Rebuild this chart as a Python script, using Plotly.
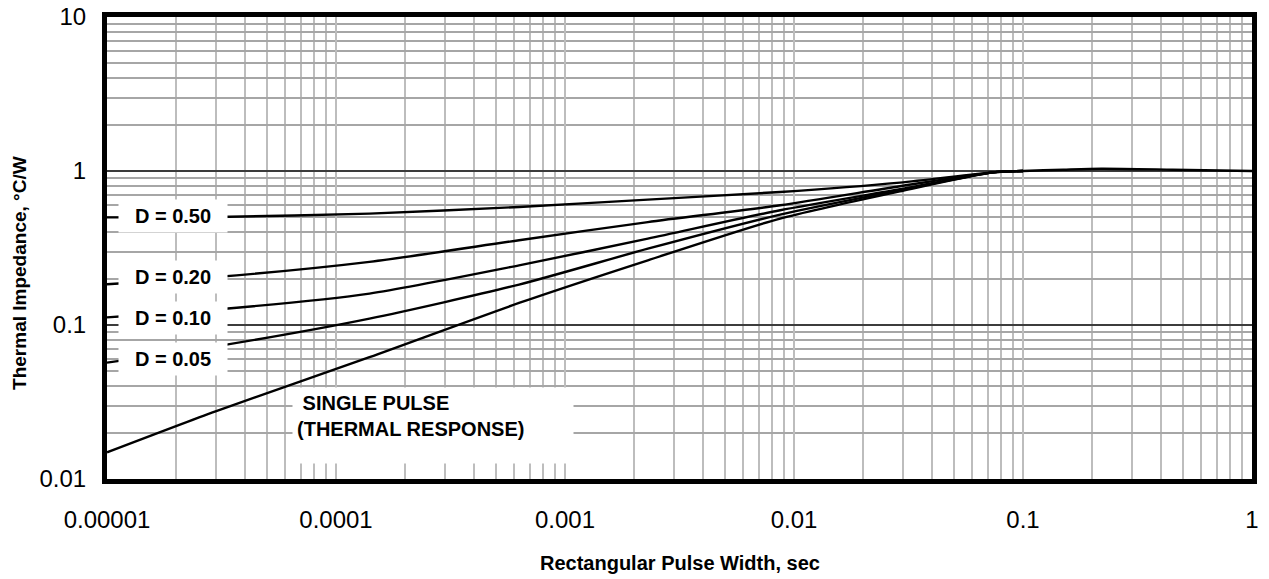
import plotly.graph_objects as go

# ---- data ----
pulse_width = [1e-5, 3e-5, 1.4e-4, 6.3e-4, 2.3e-3, 8.7e-3, 0.029, 0.074, 0.1]
z_d050 = [0.50, 0.503, 0.529, 0.584, 0.652, 0.731, 0.841, 0.98, 1.0]
z_d020 = [0.184, 0.205, 0.257, 0.355, 0.466, 0.599, 0.796, 0.98, 1.0]
z_d010 = [0.112, 0.126, 0.160, 0.244, 0.364, 0.556, 0.761, 0.98, 1.0]
z_d005 = [0.057, 0.0727, 0.110, 0.183, 0.313, 0.521, 0.749, 0.98, 1.0]

single_x = [1e-5, 3e-5, 1.4e-4, 6.3e-4, 2.3e-3, 8.7e-3, 0.029, 0.074, 0.1, 0.15, 0.22, 0.45, 1.0]
single_z = [0.0149, 0.0276, 0.0618, 0.139, 0.263, 0.491, 0.738, 0.98, 1.0, 1.02, 1.035, 1.02, 1.0]

x_tickvals = [1e-5, 1e-4, 1e-3, 1e-2, 1e-1, 1]
x_ticktext = ["0.00001", "0.0001", "0.001", "0.01", "0.1", "1"]
y_tickvals = [0.01, 0.1, 1, 10]
y_ticktext = ["0.01", "0.1", "1", "10"]

duty_labels = ["D = 0.50", "D = 0.20", "D = 0.10", "D = 0.05"]
duty_series = [z_d050, z_d020, z_d010, z_d005]
# label centre heights (log10 of impedance)
duty_label_logy = [-0.294, -0.690, -0.956, -1.223]

x_title = "Rectangular Pulse Width, sec"
y_title = "Thermal Impedance, °C/W"

FONT = "Arial, 'Liberation Sans', sans-serif"

def minor_vals(lo_exp, hi_exp):
    out = []
    for e in range(lo_exp, hi_exp):
        for m in range(2, 10):
            out.append(m * 10 ** e)
    return out

fig = go.Figure()
for ys in duty_series:
    fig.add_trace(go.Scatter(x=pulse_width, y=ys, mode="lines",
                             line=dict(color="black", width=2.4, shape="spline", smoothing=0.7),
                             showlegend=False, hoverinfo="skip"))
fig.add_trace(go.Scatter(x=single_x, y=single_z, mode="lines",
                         line=dict(color="black", width=2.4, shape="spline", smoothing=0.7),
                         showlegend=False, hoverinfo="skip"))

annotations = []
for txt, ly in zip(duty_labels, duty_label_logy):
    annotations.append(dict(x=-4.712, y=ly, xref="x", yref="y", text="<b>" + txt + "</b>",
                            showarrow=False, bgcolor="white", width=108, height=32,
                            borderpad=0, font=dict(family=FONT, size=20, color="black")))
annotations.append(dict(x=-3.576, y=-1.655, xref="x", yref="y",
                        text="<b>&nbsp;SINGLE PULSE<br>(THERMAL RESPONSE)</b>",
                        showarrow=False, bgcolor="white", width=272, height=67,
                        align="left", valign="top", borderpad=4,
                        font=dict(family=FONT, size=20, color="black")))
# axis titles
annotations.append(dict(x=0.5004, y=-0.182, xref="paper", yref="paper",
                        text="<b>" + x_title + "</b>", showarrow=False,
                        xanchor="center", yanchor="middle",
                        font=dict(family=FONT, size=20, color="black")))
annotations.append(dict(x=-0.076, y=0.446, xref="paper", yref="paper",
                        text="<b>" + y_title + "</b>", showarrow=False, textangle=-90,
                        xanchor="center", yanchor="middle",
                        font=dict(family=FONT, size=19, color="black")))

fig.update_layout(
    width=1269, height=579,
    margin=dict(l=107, r=17, t=17, b=100),
    paper_bgcolor="white", plot_bgcolor="white",
    font=dict(family=FONT, color="black"),
    annotations=annotations,
    xaxis=dict(
        type="log", range=[-5, 0], automargin=False,
        tickmode="array", tickvals=x_tickvals, ticktext=x_ticktext,
        tickfont=dict(size=24, family=FONT, color="black"),
        ticks="outside", ticklen=15, tickcolor="rgba(0,0,0,0)",
        ticklabeloverflow="allow",
        showgrid=True, gridcolor="#bdbdbd", gridwidth=1.5,
        minor=dict(tickmode="array", tickvals=minor_vals(-5, 0), showgrid=True,
                   gridcolor="#bdbdbd", gridwidth=1.5, ticks=""),
        showline=True, linecolor="black", linewidth=5, mirror=True,
        zeroline=False,
    ),
    yaxis=dict(
        type="log", range=[-2, 1], automargin=False,
        tickmode="array", tickvals=y_tickvals, ticktext=y_ticktext,
        tickfont=dict(size=24, family=FONT, color="black"),
        ticks="outside", ticklen=11, tickcolor="rgba(0,0,0,0)",
        ticklabeloverflow="allow",
        showgrid=True, gridcolor="#3c3c3c", gridwidth=2,
        minor=dict(tickmode="array", tickvals=minor_vals(-2, 1), showgrid=True,
                   gridcolor="#a6a6a6", gridwidth=1.5, ticks=""),
        showline=True, linecolor="black", linewidth=5, mirror=True,
        zeroline=False,
    ),
)

fig.write_html("out.html", config={"displayModeBar": False},
               post_script="document.body.style.margin='0';document.body.style.overflow='hidden';")
